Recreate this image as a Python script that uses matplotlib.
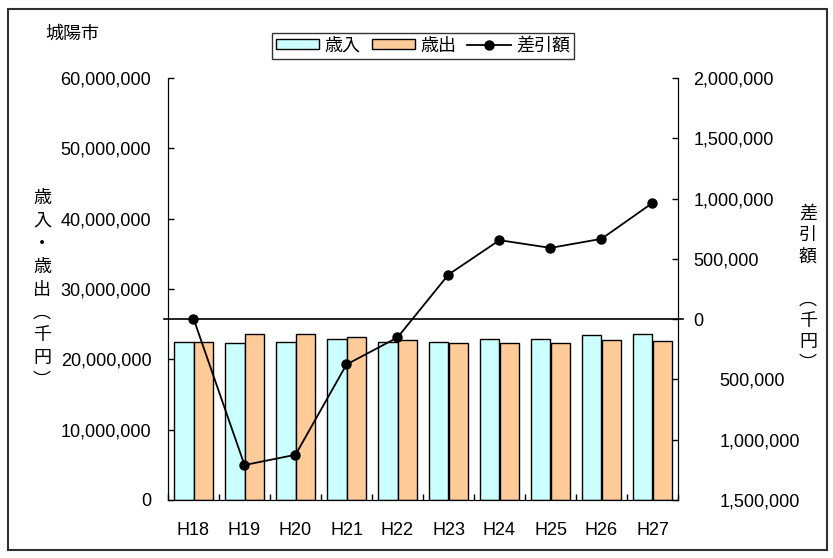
import matplotlib.pyplot as plt
import numpy as np
from matplotlib.patches import Rectangle

plt.rcParams['font.family'] = ['Liberation Sans', 'Noto Sans CJK JP']

years = ['H18', 'H19', 'H20', 'H21', 'H22', 'H23', 'H24', 'H25', 'H26', 'H27']
revenue = [22520000, 22380000, 22500000, 22950000, 22500000, 22500000, 22950000, 22950000, 23430000, 23600000]
expense = [22500000, 23600000, 23600000, 23140000, 22760000, 22380000, 22380000, 22330000, 22760000, 22570000]
balance = [5000, -1210000, -1125000, -376000, -152000, 370000, 655000, 591000, 666000, 964000]

left_ticks = [0, 10000000, 20000000, 30000000, 40000000, 50000000, 60000000]
right_ticks = [-1500000, -1000000, -500000, 0, 500000, 1000000, 1500000, 2000000]

fig = plt.figure(figsize=(8.33, 5.58), dpi=100)
ax = fig.add_axes([168/833, 58/558, 510/833, 422/558])
ax2 = ax.twinx()

x = np.arange(len(years))
w = 0.39
ax.bar(x - w/2, revenue, w, color='#CCFFFF', edgecolor='black', linewidth=1, label='歳入')
ax.bar(x + w/2, expense, w, color='#FFCC99', edgecolor='black', linewidth=1, label='歳出')
ax.set_xlim(-0.5, len(years) - 0.5)
ax.set_ylim(0, 60000000)
ax.set_yticks(left_ticks, [f'{v:,}' for v in left_ticks])
ax.set_xticks(x, years)
ax.set_xticks(np.arange(len(years) + 1) - 0.5, minor=True)
ax.tick_params(axis='x', which='major', length=0, pad=16, labelsize=13)
ax.tick_params(axis='x', which='minor', direction='in', length=4, width=1)
ax.tick_params(axis='y', direction='in', length=4, width=1, pad=12, labelsize=13)
ax.spines['top'].set_visible(False)

ax2.plot(x, balance, color='black', lw=1.3, marker='o', markersize=6.5, label='差引額')
ax2.axhline(0, color='black', lw=1.2, xmin=-0.008, xmax=1.01, clip_on=False, zorder=1)
ax2.set_ylim(-1500000, 2000000)
ax2.set_yticks(right_ticks, [f'{abs(v):,}' for v in right_ticks])
ax2.tick_params(axis='y', direction='in', length=4, width=1, pad=11, labelsize=13)
for t, v in zip(ax2.yaxis.get_major_ticks(), right_ticks):
    if v < 0:
        t.set_pad(30)
ax2.spines['top'].set_visible(False)

fig.text(45/833, 1 - 34/558, '城陽市', fontsize=13, va='center', ha='left')
fig.text(42/833, 1 - 290/558, '歳\n入\n・\n歳\n出\n︵\n千\n円\n︶', fontsize=13,
         ha='center', va='center', linespacing=1.45)
fig.text(808/833, 1 - 289/558, '差\n引\n額\n\n︵\n千\n円\n︶', fontsize=13,
         ha='center', va='center', linespacing=1.35)

h1, l1 = ax.get_legend_handles_labels()
h2, l2 = ax2.get_legend_handles_labels()
leg = fig.legend(h1 + h2, l1 + l2, loc='center', bbox_to_anchor=(423/833, 1 - 46/558),
                 ncol=3, fontsize=13, frameon=True, fancybox=False, edgecolor='black',
                 handlelength=2.4, handleheight=0.45, handletextpad=0.3, columnspacing=0.6,
                 borderpad=0.25, borderaxespad=0)
leg.get_frame().set_linewidth(1)

fig.patches.append(Rectangle((8/833, 8/558), 819/833, 541/558, transform=fig.transFigure,
                             fill=False, edgecolor='#303030', linewidth=1.5))

fig.savefig('out.png', dpi=100)
